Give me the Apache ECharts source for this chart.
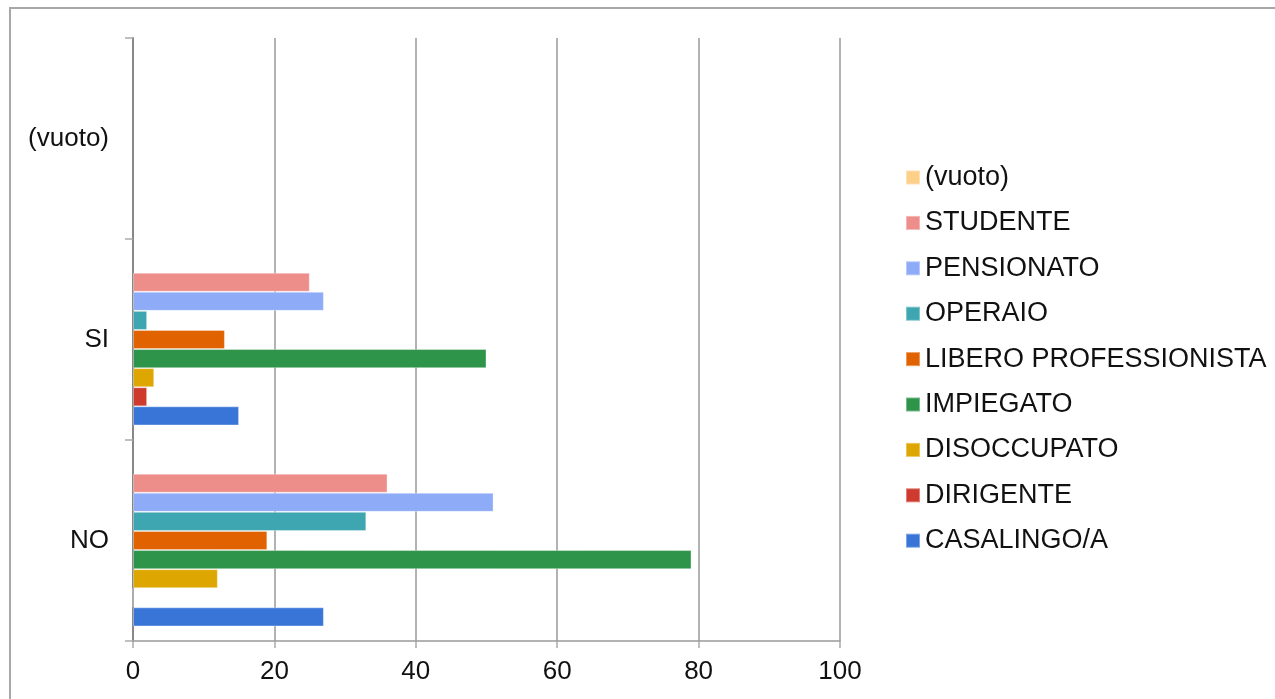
<!DOCTYPE html>
<html>
<head>
<meta charset="utf-8">
<script src="https://cdn.jsdelivr.net/npm/echarts@6/dist/echarts.min.js"></script>
<style>
  html, body { margin: 0; padding: 0; background: #fff; }
  #chart { width: 1275px; height: 699px; }
</style>
</head>
<body>
<div id="chart"></div>
<script>
// Category rows (bottom to top) and occupation series
const categories = ['NO', 'SI', '(vuoto)'];

const casalingo   = [27, 15, null];
const dirigente   = [0, 2, null];
const disoccupato = [12, 3, null];
const impiegato   = [79, 50, null];
const libero      = [19, 13, null];
const operaio     = [33, 2, null];
const pensionato  = [51, 27, null];
const studente    = [36, 25, null];
const vuoto       = [null, null, null];

const xTicks = [0, 20, 40, 60, 80, 100];

// Listed top-to-bottom, as they stack inside each category band and in the legend
const seriesDefs = [
  { name: '(vuoto)', data: vuoto, color: '#fdd08a' },
  { name: 'STUDENTE', data: studente, color: '#ee8e8a' },
  { name: 'PENSIONATO', data: pensionato, color: '#8eabf7' },
  { name: 'OPERAIO', data: operaio, color: '#3da6b0' },
  { name: 'LIBERO PROFESSIONISTA', data: libero, color: '#e06200' },
  { name: 'IMPIEGATO', data: impiegato, color: '#2e944a' },
  { name: 'DISOCCUPATO', data: disoccupato, color: '#dda600' },
  { name: 'DIRIGENTE', data: dirigente, color: '#cf3a2f' },
  { name: 'CASALINGO/A', data: casalingo, color: '#3875d7' }
];

const FONT = "'Liberation Sans', Arial, sans-serif";
const chart = echarts.init(document.getElementById('chart'));

chart.setOption({
  animation: false,
  textStyle: { fontFamily: FONT },
  graphic: [{
    type: 'rect',
    silent: true,
    shape: { x: 10, y: 8, width: 1400, height: 800 },
    style: { fill: 'none', stroke: '#a8a8a8', lineWidth: 2 }
  }],
  grid: { left: 133, right: 435, top: 38, bottom: 58, containLabel: false },
  legend: {
    orient: 'vertical',
    left: 900,
    top: 159,
    itemWidth: 14,
    itemHeight: 14,
    itemGap: 18.4,
    icon: 'rect',
    data: seriesDefs.map(s => s.name),
    textStyle: { fontFamily: FONT, fontSize: 27, color: '#111' }
  },
  xAxis: {
    type: 'value',
    min: xTicks[0],
    max: xTicks[xTicks.length - 1],
    interval: xTicks[1] - xTicks[0],
    axisLine: { show: true, lineStyle: { color: '#999', width: 1.5 } },
    axisTick: { show: true, length: 7, lineStyle: { color: '#aaa', width: 1.5 } },
    axisLabel: { fontFamily: FONT, fontSize: 26, color: '#111', margin: 18 },
    splitLine: { show: true, lineStyle: { color: '#999', width: 1.5 } }
  },
  yAxis: {
    type: 'category',
    data: categories,
    axisLine: { show: true, lineStyle: { color: '#888', width: 2 } },
    axisTick: { show: true, length: 8, alignWithLabel: false, lineStyle: { color: '#aaa', width: 1.5 } },
    axisLabel: { fontFamily: FONT, fontSize: 26, color: '#111', margin: 24 },
    splitLine: { show: false }
  },
  series: seriesDefs.map(s => ({
    name: s.name,
    type: 'bar',
    data: s.data,
    barGap: '0%',
    barCategoryGap: '14.5%',
    itemStyle: { color: s.color, borderColor: 'rgba(255,255,255,0.35)', borderWidth: 1 },
    emphasis: { disabled: true }
  }))
});
</script>
</body>
</html>
